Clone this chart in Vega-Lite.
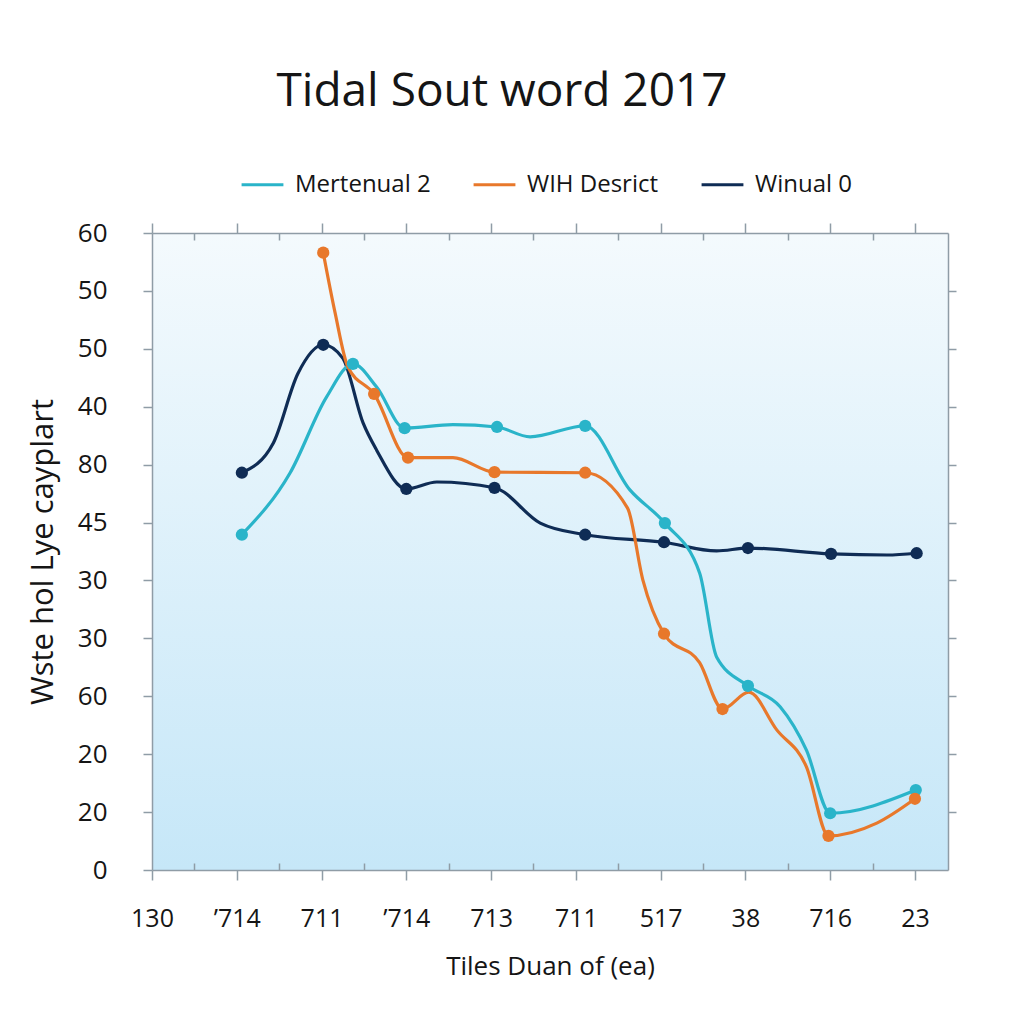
{
  "$schema": "https://vega.github.io/schema/vega-lite/v6.json",
  "autosize": {"type": "none"},
  "padding": {"left": 152, "top": 233, "right": 76, "bottom": 154},
  "width": 796,
  "height": 637,
  "background": "#ffffff",
  "title": {
    "text": "Tidal Sout word 2017",
    "font": "Open Sans",
    "fontSize": 46,
    "fontWeight": "normal",
    "color": "#151515",
    "anchor": "middle",
    "frame": "group",
    "dx": -48,
    "offset": 46
  },
  "config": {
    "view": {
      "stroke": null,
      "fill": {"gradient": "linear", "x1": 0, "y1": 0, "x2": 0, "y2": 1,
        "stops": [{"offset": 0, "color": "#f4fafd"}, {"offset": 1, "color": "#c6e7f8"}]}
    },
    "axis": {
      "domainColor": "#8f9ca6",
      "domainWidth": 1.5,
      "tickColor": "#8f9ca6",
      "tickWidth": 1.5,
      "grid": false,
      "labelFont": "Open Sans",
      "titleFont": "Open Sans",
      "labelColor": "#151515",
      "titleColor": "#151515",
      "titleFontWeight": "normal"
    }
  },
  "datasets": {
    "lines": [
      {"s": "Winual 0", "x": 1.06, "y": 6.86},
      {"s": "Winual 0", "x": 1.43, "y": 7.37},
      {"s": "Winual 0", "x": 1.72, "y": 8.57},
      {"s": "Winual 0", "x": 2.02, "y": 9.07},
      {"s": "Winual 0", "x": 2.25, "y": 8.84},
      {"s": "Winual 0", "x": 2.49, "y": 7.72},
      {"s": "Winual 0", "x": 2.65, "y": 7.25},
      {"s": "Winual 0", "x": 3.0, "y": 6.58},
      {"s": "Winual 0", "x": 3.36, "y": 6.7},
      {"s": "Winual 0", "x": 4.04, "y": 6.6},
      {"s": "Winual 0", "x": 4.58, "y": 5.99},
      {"s": "Winual 0", "x": 5.11, "y": 5.79},
      {"s": "Winual 0", "x": 6.04, "y": 5.66},
      {"s": "Winual 0", "x": 6.66, "y": 5.51},
      {"s": "Winual 0", "x": 7.03, "y": 5.56},
      {"s": "Winual 0", "x": 8.01, "y": 5.46},
      {"s": "Winual 0", "x": 8.67, "y": 5.44},
      {"s": "Winual 0", "x": 9.02, "y": 5.47},
      {"s": "Mertenual 2", "x": 1.06, "y": 5.79},
      {"s": "Mertenual 2", "x": 1.63, "y": 6.86},
      {"s": "Mertenual 2", "x": 2.06, "y": 8.17},
      {"s": "Mertenual 2", "x": 2.37, "y": 8.74},
      {"s": "Mertenual 2", "x": 2.65, "y": 8.34},
      {"s": "Mertenual 2", "x": 2.98, "y": 7.63},
      {"s": "Mertenual 2", "x": 3.55, "y": 7.69},
      {"s": "Mertenual 2", "x": 4.07, "y": 7.65},
      {"s": "Mertenual 2", "x": 4.46, "y": 7.48},
      {"s": "Mertenual 2", "x": 5.11, "y": 7.67},
      {"s": "Mertenual 2", "x": 5.64, "y": 6.56},
      {"s": "Mertenual 2", "x": 6.05, "y": 5.99},
      {"s": "Mertenual 2", "x": 6.46, "y": 5.13},
      {"s": "Mertenual 2", "x": 6.66, "y": 3.68},
      {"s": "Mertenual 2", "x": 7.03, "y": 3.18},
      {"s": "Mertenual 2", "x": 7.41, "y": 2.82},
      {"s": "Mertenual 2", "x": 7.72, "y": 2.07},
      {"s": "Mertenual 2", "x": 8.0, "y": 0.98},
      {"s": "Mertenual 2", "x": 9.01, "y": 1.38},
      {"s": "WIH Desrict", "x": 2.02, "y": 10.66},
      {"s": "WIH Desrict", "x": 2.16, "y": 9.62},
      {"s": "WIH Desrict", "x": 2.31, "y": 8.69},
      {"s": "WIH Desrict", "x": 2.62, "y": 8.22},
      {"s": "WIH Desrict", "x": 3.02, "y": 7.12},
      {"s": "WIH Desrict", "x": 3.55, "y": 7.12},
      {"s": "WIH Desrict", "x": 4.04, "y": 6.87},
      {"s": "WIH Desrict", "x": 5.11, "y": 6.86},
      {"s": "WIH Desrict", "x": 5.61, "y": 6.25},
      {"s": "WIH Desrict", "x": 5.79, "y": 5.01},
      {"s": "WIH Desrict", "x": 6.04, "y": 4.08},
      {"s": "WIH Desrict", "x": 6.46, "y": 3.58},
      {"s": "WIH Desrict", "x": 6.73, "y": 2.78},
      {"s": "WIH Desrict", "x": 7.04, "y": 3.07},
      {"s": "WIH Desrict", "x": 7.37, "y": 2.42},
      {"s": "WIH Desrict", "x": 7.72, "y": 1.78},
      {"s": "WIH Desrict", "x": 7.98, "y": 0.59},
      {"s": "WIH Desrict", "x": 8.55, "y": 0.81},
      {"s": "WIH Desrict", "x": 9.0, "y": 1.23}
    ],
    "pts": [
      {"s": "Winual 0", "x": 1.06, "y": 6.86},
      {"s": "Winual 0", "x": 2.02, "y": 9.07},
      {"s": "Winual 0", "x": 3.0, "y": 6.58},
      {"s": "Winual 0", "x": 4.04, "y": 6.6},
      {"s": "Winual 0", "x": 5.11, "y": 5.79},
      {"s": "Winual 0", "x": 6.04, "y": 5.66},
      {"s": "Winual 0", "x": 7.03, "y": 5.56},
      {"s": "Winual 0", "x": 8.01, "y": 5.46},
      {"s": "Winual 0", "x": 9.02, "y": 5.47},
      {"s": "Mertenual 2", "x": 1.06, "y": 5.79},
      {"s": "Mertenual 2", "x": 2.37, "y": 8.74},
      {"s": "Mertenual 2", "x": 2.98, "y": 7.63},
      {"s": "Mertenual 2", "x": 4.07, "y": 7.65},
      {"s": "Mertenual 2", "x": 5.11, "y": 7.67},
      {"s": "Mertenual 2", "x": 6.05, "y": 5.99},
      {"s": "Mertenual 2", "x": 7.03, "y": 3.18},
      {"s": "Mertenual 2", "x": 8.0, "y": 0.98},
      {"s": "Mertenual 2", "x": 9.01, "y": 1.38},
      {"s": "WIH Desrict", "x": 2.02, "y": 10.66},
      {"s": "WIH Desrict", "x": 2.62, "y": 8.22},
      {"s": "WIH Desrict", "x": 3.02, "y": 7.12},
      {"s": "WIH Desrict", "x": 4.04, "y": 6.87},
      {"s": "WIH Desrict", "x": 5.11, "y": 6.86},
      {"s": "WIH Desrict", "x": 6.04, "y": 4.08},
      {"s": "WIH Desrict", "x": 6.73, "y": 2.78},
      {"s": "WIH Desrict", "x": 7.98, "y": 0.59},
      {"s": "WIH Desrict", "x": 9.0, "y": 1.23}
    ]
  },
  "layer": [
    {
      "data": {"name": "lines"},
      "mark": {"type": "line", "interpolate": "monotone", "strokeWidth": 3.2},
      "encoding": {
        "x": {
          "field": "x", "type": "quantitative",
          "scale": {"domain": [0, 9.39], "nice": false, "zero": false},
          "axis": {
            "orient": "bottom",
            "title": "Tiles Duan of (ea)",
            "titleFontSize": 26,
            "titlePadding": 22,
            "values": [0, 0.5, 1, 1.5, 2, 2.5, 3, 3.5, 4, 4.5, 5, 5.5, 6, 6.5, 7, 7.5, 8, 8.5, 9],
            "labelExpr": "datum.value % 1 ? '' : ['130', '’714', '711', '’714', '713', '711', '517', '38', '716', '23'][datum.value]",
            "labelFontSize": 25,
            "labelPadding": 26,
            "labelFlush": false,
            "labelOverlap": false,
            "tickSize": {"condition": {"test": "datum.value % 1 !== 0", "value": -7}, "value": 10}
          }
        },
        "y": {
          "field": "y", "type": "quantitative",
          "scale": {"domain": [0, 11], "nice": false, "zero": false},
          "axis": {
            "orient": "left",
            "title": "Wste hol Lye cayplart",
            "titleFontSize": 31,
            "titlePadding": 18,
            "values": [0, 1, 2, 3, 4, 5, 6, 7, 8, 9, 10, 11],
            "labelExpr": "['0', '20', '20', '60', '30', '30', '45', '80', '40', '50', '50', '60'][datum.value]",
            "labelFontSize": 26,
            "labelPadding": 36,
            "labelFlush": false,
            "tickSize": 9
          }
        },
        "color": {
          "field": "s", "type": "nominal",
          "scale": {"domain": ["Mertenual 2", "WIH Desrict", "Winual 0"], "range": ["#2ab4c9", "#e8782b", "#0f2c55"]},
          "legend": {
            "title": null,
            "orient": "none",
            "direction": "horizontal",
            "legendX": 88,
            "legendY": -71,
            "symbolType": "stroke",
            "symbolSize": 1750,
            "symbolStrokeWidth": 3,
            "labelFont": "Open Sans",
            "labelFontSize": 24,
            "labelColor": "#151515",
            "labelOffset": 10,
            "columnPadding": 36
          }
        }
      }
    },
    {
      "data": {"name": "pts"},
      "mark": {"type": "point", "filled": true, "opacity": 1, "size": 150},
      "encoding": {
        "x": {
          "field": "x", "type": "quantitative",
          "axis": {
            "orient": "top",
            "title": null,
            "labels": false,
            "values": [0, 0.5, 1, 1.5, 2, 2.5, 3, 3.5, 4, 4.5, 5, 5.5, 6, 6.5, 7, 7.5, 8, 8.5, 9],
            "tickSize": {"condition": {"test": "datum.value % 1 !== 0", "value": -7}, "value": 10}
          }
        },
        "y": {
          "field": "y", "type": "quantitative",
          "axis": {
            "orient": "right",
            "title": null,
            "labels": false,
            "values": [1, 2, 3, 4, 5, 6, 7, 8, 9, 10],
            "tickSize": 8
          }
        },
        "color": {"field": "s", "type": "nominal"}
      }
    }
  ],
  "resolve": {"axis": {"x": "independent", "y": "independent"}}
}
